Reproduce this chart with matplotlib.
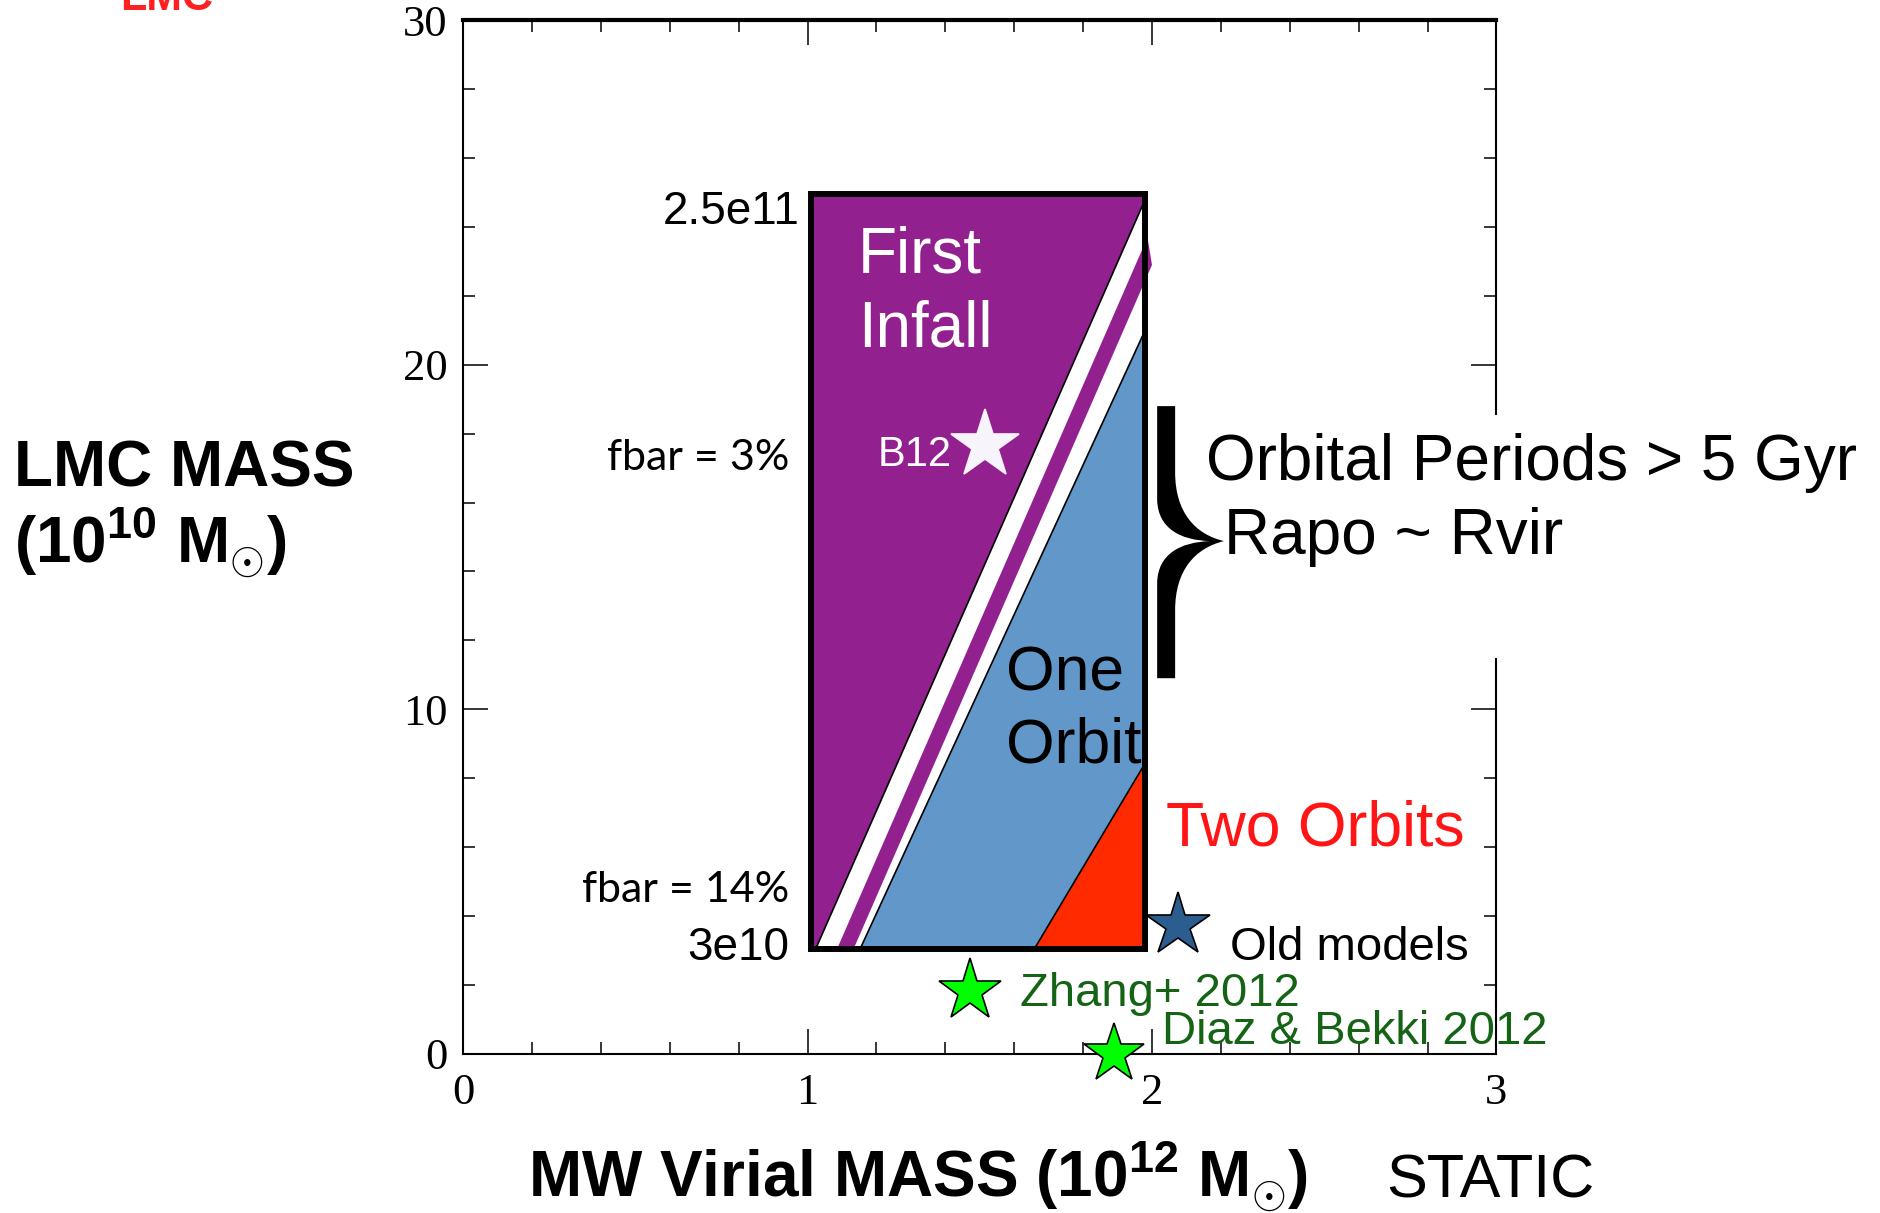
import matplotlib
matplotlib.use("Agg")
import matplotlib.pyplot as plt
from matplotlib.path import Path
from matplotlib.patches import PathPatch, Rectangle
from matplotlib.ticker import MultipleLocator

# region edges (x: MW mass 1e12 Msun, y: LMC mass 1e10 Msun)
rect_x = [1.01, 1.98]
rect_y = [3.05, 24.95]
infall_edge_x = [1.024, 1.98]
infall_edge_y = [3.05, 24.8]
stripe_x = [1.086, 1.134, 2.0, 1.987]
stripe_y = [3.05, 3.05, 22.9, 23.7]
one_orbit_edge_x = [1.153, 1.98]
one_orbit_edge_y = [3.05, 21.0]
two_orbit_edge_x = [1.659, 1.98]
two_orbit_edge_y = [3.05, 8.43]

# literature models
star_names = ["B12", "Old models", "Zhang+ 2012", "Diaz & Bekki 2012"]
star_x = [1.516, 2.075, 1.472, 1.889]
star_y = [17.67, 3.73, 1.81, 0.0]
star_colors = ["#f8f4fb", "#2c5d8f", "#00ff00", "#00ff00"]
star_edges = ["#f8f4fb", "black", "black", "black"]
star_sizes = [52, 48, 47, 45]

# brace range on the y axis (orbital periods > 5 Gyr)
brace_y = [10.9, 18.8]

x_ticks = [0, 1, 2, 3]
y_ticks = [0, 10, 20, 30]

PURPLE = "#93208f"
BLUE = "#6297c9"
RED = "#ff2a00"
GREEN_TXT = "#156315"
SANS = "Liberation Sans"

plt.rcParams["mathtext.fontset"] = "custom"
plt.rcParams["mathtext.rm"] = SANS
plt.rcParams["mathtext.bf"] = SANS + ":bold"

fig = plt.figure(figsize=(18.81, 12.13), dpi=100)
ax = fig.add_axes([0.24625, 0.13141, 0.54928, 0.85177])
ax.set_xlim(0, 3)
ax.set_ylim(0, 30)

# frame and ticks
for side in ["left", "right", "bottom"]:
    ax.spines[side].set_linewidth(1.5)
ax.spines["top"].set_linewidth(3)
ax.set_xticks(x_ticks)
ax.set_yticks(y_ticks)
ax.xaxis.set_minor_locator(MultipleLocator(0.2))
ax.yaxis.set_minor_locator(MultipleLocator(2))
ax.tick_params(which="both", direction="in", top=True, right=True, width=1.1)
ax.tick_params(which="major", length=18)
ax.tick_params(which="minor", length=8.6)
ax.tick_params(axis="x", pad=14)
ax.tick_params(axis="y", pad=11)
for lab in ax.get_xticklabels() + ax.get_yticklabels():
    lab.set_family("Liberation Serif")
    lab.set_fontsize(32)

# regions
x0, x1 = rect_x
y0, y1 = rect_y
ax.fill([x0, x1, x1, x0], [y0, y0, y1, y1], color=PURPLE, lw=0, zorder=1)
ax.fill(infall_edge_x + one_orbit_edge_x[::-1], infall_edge_y + one_orbit_edge_y[::-1],
        color="white", lw=0, zorder=2)
ax.fill(one_orbit_edge_x + [x1], one_orbit_edge_y + [y0], color=BLUE, lw=0, zorder=2.5)
ax.fill(stripe_x, stripe_y, color=PURPLE, lw=0, zorder=3, clip_on=False)
ax.fill(two_orbit_edge_x + [x1], two_orbit_edge_y + [y0], color=RED, lw=0, zorder=3)
for ex, ey in [(infall_edge_x, infall_edge_y), (one_orbit_edge_x, one_orbit_edge_y),
               (two_orbit_edge_x, two_orbit_edge_y)]:
    ax.plot(ex, ey, color="black", lw=1.2, zorder=4)
ax.add_patch(Rectangle((x0, y0), x1 - x0, y1 - y0, fill=False, ec="black", lw=4.3,
                       zorder=5, joinstyle="miter"))

# stars
for sx, sy, c, ec, ms in zip(star_x, star_y, star_colors, star_edges, star_sizes):
    ax.plot(sx, sy, marker="*", ms=ms, color=c, mec=ec, mew=1.2, zorder=7, clip_on=False)

# the text block on the right hides the right frame behind it
ax.add_patch(Rectangle((2.9, 11.5), 0.2, 7.05, fc="white", ec="none", zorder=5.5,
                       clip_on=False))


def label(x, y, s, size, color="black", ha="left", family=SANS, **kw):
    ax.text(x, y, s, fontsize=size, color=color, ha=ha, va="baseline",
            family=family, zorder=6, clip_on=False, **kw)


label(0.978, 24.09, "2.5e11", 33, ha="right")
label(0.948, 2.71, "3e10", 33, ha="right")
label(0.948, 16.94, "fbar = 3%", 31, ha="right", family="Lato")
label(0.948, 4.40, "fbar = 14%", 31, ha="right", family="Lato")
label(1.146, 22.69, "First", 46, color="white")
label(1.146, 20.54, "Infall", 46, color="white")
label(1.202, 17.06, star_names[0], 30, color="white")
label(1.576, 10.54, "One", 45)
label(1.576, 8.44, "Orbit", 45)
label(2.04, 6.03, "Two Orbits", 45, color="#ff1515")
label(2.157, 16.66, "Orbital Periods > 5 Gyr", 46)
label(2.209, 14.51, "Rapo ~ Rvir", 46)
label(2.226, 2.71, star_names[1], 34)
label(1.617, 1.38, star_names[2], 34, color=GREEN_TXT)
label(2.029, 0.28, star_names[3], 34, color=GREEN_TXT)

# curly brace built in a unit box, then mapped to data coordinates
bx0, bx1 = 2.015, 2.209
by0, by1 = brace_y
unit = [(0, 1), (0, 0.654),
        (0.015, 0.551), (0.343, 0.507), (0.791, 0.504),
        (0.343, 0.5), (0.015, 0.456), (0, 0.353),
        (0, 0), (0.269, 0), (0.269, 0.25),
        (0.269, 0.397), (0.567, 0.478), (1.0, 0.504),
        (0.567, 0.529), (0.269, 0.610), (0.269, 0.757),
        (0.269, 1), (0, 1)]
codes = [Path.MOVETO, Path.LINETO,
         Path.CURVE4, Path.CURVE4, Path.CURVE4,
         Path.CURVE4, Path.CURVE4, Path.CURVE4,
         Path.LINETO, Path.LINETO, Path.LINETO,
         Path.CURVE4, Path.CURVE4, Path.CURVE4,
         Path.CURVE4, Path.CURVE4, Path.CURVE4,
         Path.LINETO, Path.CLOSEPOLY]
verts = [(bx0 + u * (bx1 - bx0), by0 + v * (by1 - by0)) for u, v in unit]
ax.add_patch(PathPatch(Path(verts, codes), fc="black", ec="none", zorder=6, clip_on=False))

# axis titles
fig.text(0.0077, 0.5993, "LMC MASS", fontsize=46, weight="bold", family=SANS, va="baseline")
fig.text(0.0077, 0.535, r"(10$^{\mathbf{10}}$ M$_{\odot}$)", fontsize=46, weight="bold",
         family=SANS, va="baseline")
fig.text(0.2807, 0.0124, r"MW Virial MASS (10$^{\mathbf{12}}$ M$_{\odot}$)", fontsize=46,
         weight="bold", family=["Liberation Sans Narrow", SANS], va="baseline")
fig.text(0.7368, 0.0124, "STATIC", fontsize=44, family=SANS, va="baseline")
fig.text(0.0638, 0.992, "LMC", fontsize=31, weight="bold", color="#ff2020", family=SANS,
         va="baseline")

fig.savefig("out.png", dpi=100)
